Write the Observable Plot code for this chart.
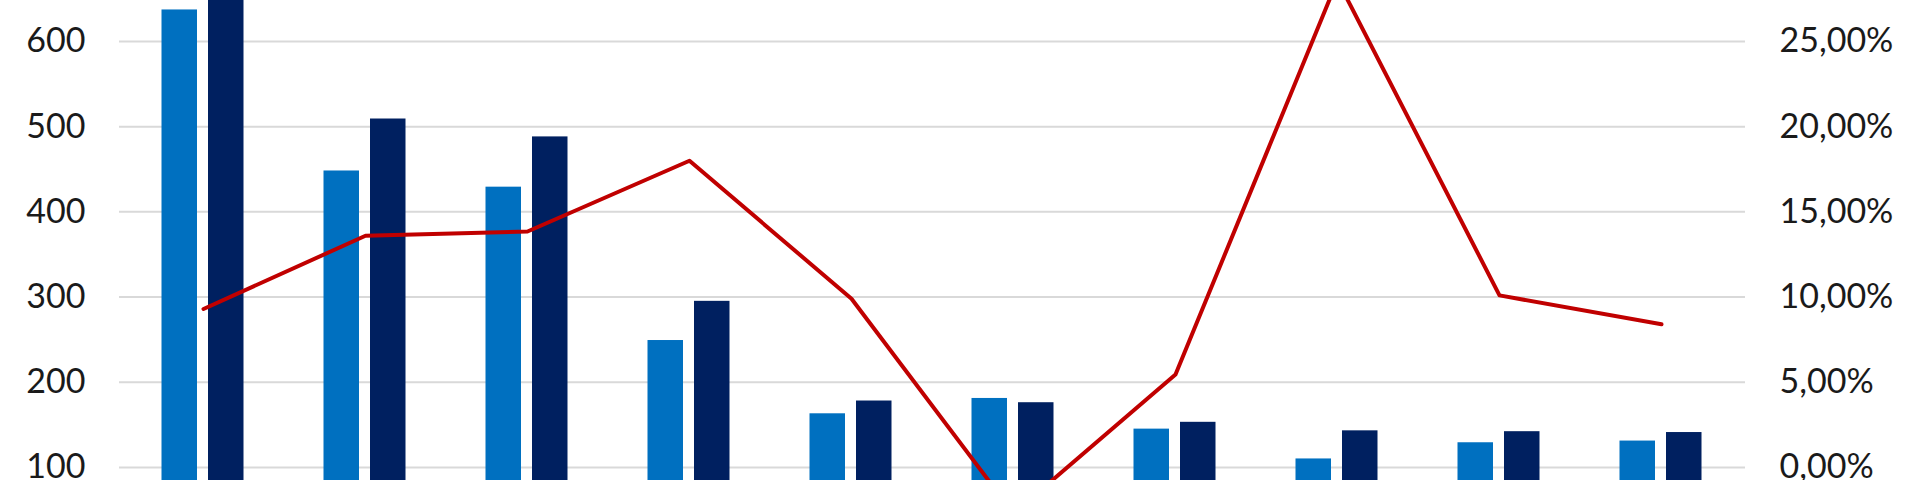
<!DOCTYPE html>
<html>
<head>
<meta charset="utf-8">
<script src="https://cdn.jsdelivr.net/npm/d3@7"></script>
<script src="https://cdn.jsdelivr.net/npm/@observablehq/plot@0.6"></script>
<style>
  html, body { margin: 0; padding: 0; background: #ffffff; }
  #chart svg { display: block; }
</style>
</head>
<body>
<div id="chart"></div>
<script>
// Categories (x-axis labels are outside the visible crop)
const categories = ["1", "2", "3", "4", "5", "6", "7", "8", "9", "10"];
// Left-axis bar series
const seriesA = [637, 448, 429, 249, 163, 181, 145, 110, 129, 131];
const seriesB = [725, 509, 488, 295, 178, 176, 153, 143, 142, 141];
// Right-axis line series (percent)
const rate = [9.3, 13.6, 13.85, 18.0, 9.9, -2.7, 5.45, 28.6, 10.1, 8.4];
// Tick values
const leftTicks = [100, 200, 300, 400, 500, 600];
const rightTicks = [0, 5, 10, 15, 20, 25];

// right axis maps 0% -> 100, 25% -> 600 on the left scale
const toLeft = p => 100 + p * 20;
const fromLeft = v => (v - 100) / 20;

const rowsA = categories.map((c, i) => ({cat: c, value: seriesA[i]}));
const rowsB = categories.map((c, i) => ({cat: c, value: seriesB[i]}));
const rowsL = categories.map((c, i) => ({cat: c, value: toLeft(rate[i])}));

const fmtPct = p => p.toFixed(2).replace(".", ",") + "%";

const chart = Plot.plot({
  width: 1920,
  height: 480,
  marginLeft: 119,
  marginRight: 175,
  marginTop: 0,
  marginBottom: 0,
  style: {fontFamily: "Lato, 'Open Sans', sans-serif", background: "#ffffff"},
  x: {domain: categories, padding: 0, axis: null},
  y: {domain: [84.7, 648.1], axis: null},
  marks: [
    Plot.gridY(leftTicks, {stroke: "#d9d9d9", strokeOpacity: 1, strokeWidth: 2}),
    Plot.barY(rowsA, {x: "cat", y: "value", fill: "#0070C0", insetLeft: 39.5, insetRight: 87, clip: true}),
    Plot.barY(rowsB, {x: "cat", y: "value", fill: "#002060", insetLeft: 86, insetRight: 40.5, clip: true}),
    Plot.lineY(rowsL, {x: "cat", y: "value", stroke: "#C00000", strokeWidth: 4, clip: true}),
    Plot.axisY(leftTicks, {anchor: "left", tickSize: 0, tickPadding: 34, fontSize: 34, fill: "#1a1a1a", label: null}),
    Plot.axisY(rightTicks.map(toLeft), {anchor: "right", tickSize: 0, tickPadding: 34, fontSize: 34, fill: "#1a1a1a", label: null,
      tickFormat: v => fmtPct(fromLeft(v))})
  ]
});
document.getElementById("chart").appendChild(chart);
</script>
</body>
</html>
